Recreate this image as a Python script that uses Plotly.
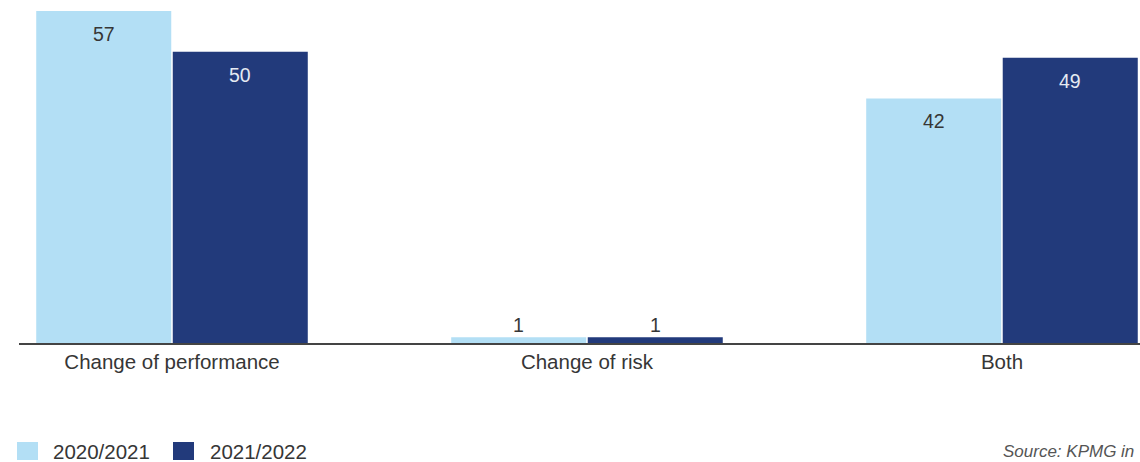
import plotly.graph_objects as go

# Data
categories = ["Change of performance", "Change of risk", "Both"]
series_names = ["2020/2021", "2021/2022"]
values_2020_2021 = [57, 1, 42]
values_2021_2022 = [50, 1, 49]
source_note = "Source: KPMG in"

# Styling
LIGHT = "#B3DFF5"
DARK = "#223A7B"
TEXT = "#363636"
LABEL_ON_DARK = "#E6EAF2"
FONT = "Liberation Sans, Arial, sans-serif"
FS = 20.5
FS_VALUE = 19.5

W, H = 1140, 462
ML, MR, MT, MB = 19, 0, 0, 119
PLOT_W = W - ML - MR
PLOT_H = H - MT - MB
Y_RANGE = [0, 58.9]
X_RANGE = [-0.3687, 2.3326]
BAR_SLOT = 68.25  # px from group centre to each bar's centre


def paper_x(px):
    return (px - ML) / PLOT_W


def paper_y(py):
    return (MT + PLOT_H - py) / PLOT_H


series = [
    (series_names[0], values_2020_2021, LIGHT, TEXT, -BAR_SLOT),
    (series_names[1], values_2021_2022, DARK, LABEL_ON_DARK, BAR_SLOT),
]

fig = go.Figure()
for name, vals, color, _, _ in series:
    fig.add_trace(go.Bar(
        name=name, x=categories, y=vals,
        marker=dict(color=color, line=dict(width=0)),
        showlegend=False, hoverinfo="skip",
    ))

# Value labels: inside near the top for tall bars, just above for tiny ones
annotations = []
for name, vals, color, label_color, shift in series:
    for cat, v in zip(categories, vals):
        tiny = v < 5
        annotations.append(dict(
            x=cat, y=v, xref="x", yref="y", text=str(v), showarrow=False,
            xshift=shift, yshift=12 if tiny else -23, yanchor="middle",
            font=dict(family=FONT, size=FS_VALUE, color=TEXT if tiny else label_color),
        ))

# Legend: coloured squares with series names
legend_items = [(LIGHT, series_names[0], 17, 51), (DARK, series_names[1], 173, 208)]
shapes = []
for color, label, sx, tx in legend_items:
    shapes.append(dict(
        type="rect", xref="paper", yref="paper",
        x0=paper_x(sx), x1=paper_x(sx + 21), y0=paper_y(460), y1=paper_y(442),
        fillcolor=color, line=dict(width=0),
    ))
    annotations.append(dict(
        x=paper_x(tx), y=paper_y(451.5), xref="paper", yref="paper",
        text=label, showarrow=False, xanchor="left", yanchor="middle",
        font=dict(family=FONT, size=FS, color=TEXT),
    ))

annotations.append(dict(
    x=paper_x(1136), y=paper_y(451), xref="paper", yref="paper",
    text=f"<i>{source_note}</i>", showarrow=False, xanchor="right", yanchor="middle",
    font=dict(family=FONT, size=17, color="#555555"),
))

fig.update_layout(
    width=W, height=H,
    margin=dict(l=ML, r=MR, t=MT, b=MB, pad=0),
    paper_bgcolor="white", plot_bgcolor="white",
    barmode="group", bargap=0.342, bargroupgap=0.011,
    showlegend=False,
    font=dict(family=FONT, size=FS, color=TEXT),
    xaxis=dict(
        type="category", range=X_RANGE, showgrid=False, zeroline=False,
        showline=True, linecolor="#444444", linewidth=1.5,
        ticks="", tickfont=dict(family=FONT, size=FS, color=TEXT),
        fixedrange=True,
    ),
    yaxis=dict(
        range=Y_RANGE, visible=False, showgrid=False, zeroline=False,
        fixedrange=True,
    ),
    shapes=shapes, annotations=annotations,
)

fig.write_html("out.html", config={"displayModeBar": False})
